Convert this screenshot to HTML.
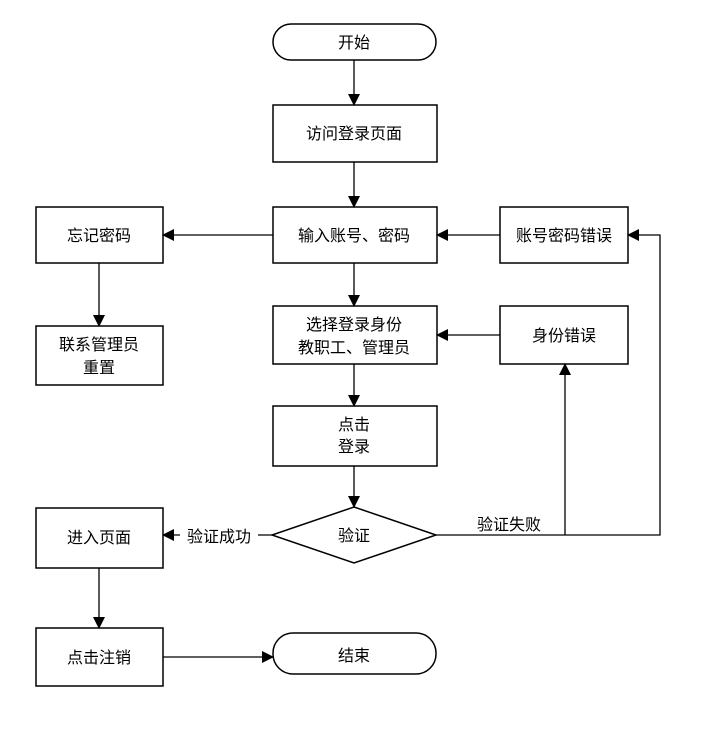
<!DOCTYPE html>
<html><head><meta charset="utf-8"><style>
html,body{margin:0;padding:0;background:#fff}
text{font-family:"Liberation Sans","Noto Sans CJK SC",sans-serif;font-size:16px;fill:#000}
</style></head><body>
<svg width="705" height="741" xmlns="http://www.w3.org/2000/svg">
<defs><marker id="a" markerWidth="12" markerHeight="12" refX="11" refY="6" orient="auto" markerUnits="userSpaceOnUse"><path d="M0,0 L12,6 L0,12 z" fill="#000"/></marker></defs>
<g fill="#fff" stroke="#000" stroke-width="1.5">
<rect x="273" y="24" width="163" height="36" rx="18"/>
<rect x="273" y="105" width="164" height="57"/>
<rect x="273" y="207" width="164" height="56"/>
<rect x="36" y="207" width="127" height="56"/>
<rect x="500" y="207" width="128" height="56"/>
<rect x="36" y="326" width="127" height="59"/>
<rect x="273" y="306" width="164" height="58"/>
<rect x="500" y="306" width="128" height="58"/>
<rect x="273" y="406" width="164" height="60"/>
<path d="M354,507 L436,535 L354,563 L272,535 z"/>
<rect x="36" y="508" width="127" height="60"/>
<rect x="36" y="628" width="127" height="58"/>
<rect x="273" y="633" width="163" height="41" rx="20"/>
</g>
<g stroke="#000" stroke-width="1.3" fill="none">
<line x1="354" y1="60" x2="354" y2="105" marker-end="url(#a)"/>
<line x1="354" y1="162" x2="354" y2="207" marker-end="url(#a)"/>
<line x1="273" y1="235" x2="163" y2="235" marker-end="url(#a)"/>
<line x1="500" y1="235" x2="437" y2="235" marker-end="url(#a)"/>
<line x1="99" y1="263" x2="99" y2="326" marker-end="url(#a)"/>
<line x1="354" y1="263" x2="354" y2="306" marker-end="url(#a)"/>
<line x1="500" y1="335" x2="437" y2="335" marker-end="url(#a)"/>
<line x1="354" y1="364" x2="354" y2="406" marker-end="url(#a)"/>
<line x1="354" y1="466" x2="354" y2="507" marker-end="url(#a)"/>
<polyline points="436,535 660,535 660,235 628,235" marker-end="url(#a)"/>
<line x1="565" y1="535" x2="565" y2="364" marker-end="url(#a)"/>
<line x1="272" y1="535" x2="163" y2="535" marker-end="url(#a)"/>
<line x1="99" y1="568" x2="99" y2="628" marker-end="url(#a)"/>
<line x1="163" y1="657" x2="273" y2="657" marker-end="url(#a)"/>
</g>
<g text-anchor="middle">
<text x="354" y="48">开始</text>
<text x="354" y="139">访问登录页面</text>
<text x="354" y="241">输入账号、密码</text>
<text x="99" y="241">忘记密码</text>
<text x="564" y="241">账号密码错误</text>
<text x="99" y="350">联系管理员</text>
<text x="99" y="373">重置</text>
<text x="354" y="330">选择登录身份</text>
<text x="354" y="353">教职工、管理员</text>
<text x="564" y="341">身份错误</text>
<text x="354" y="430">点击</text>
<text x="354" y="452">登录</text>
<text x="354" y="541">验证</text>
<text x="99" y="543">进入页面</text>
<text x="99" y="663">点击注销</text>
<text x="354" y="661">结束</text>
<rect x="180" y="525" width="78" height="22" fill="#fff"/>
<text x="219" y="542">验证成功</text>
<text x="509" y="530">验证失败</text>
</g>
</svg>
</body></html>
